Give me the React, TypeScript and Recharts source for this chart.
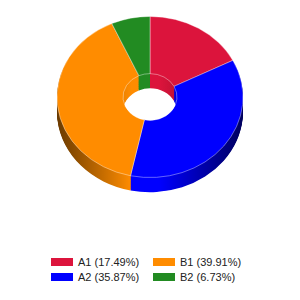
import { PieChart, Pie, Cell } from 'recharts';

const labels = ['A1', 'A2', 'B1', 'B2'];
const values = [17.49, 35.87, 39.91, 6.73];
const colors = ['#DC143C', '#0000FF', '#FF8C00', '#228B22'];
const darkColors = ['#5e0818', '#00005e', '#6a3a00', '#0e3c0e'];

const data = labels.map((name, i) => ({ name, value: values[i] }));
const total = values.reduce((a, b) => a + b, 0);

// pie is drawn flat and squashed with CSS to fake the tilt
const TILT = 0.866;
const CX = 150;
const CY = 112;
const OUTER = 93;
const INNER = 27;
const DEPTH = 17;

const sideLayers = Array.from({ length: DEPTH }, (_, i) => DEPTH - i);

export default function App() {
  return (
    <div style={{ position: 'absolute', left: 0, top: 0, width: 300, height: 300, background: '#fff' }}>
      <div style={{ position: 'absolute', left: 0, top: 0, transform: `scaleY(${TILT})`, transformOrigin: '0 0' }}>
        <PieChart width={300} height={240} margin={{ top: 0, right: 0, bottom: 0, left: 0 }}>
          <defs>
            {colors.map((c, i) => (
              <linearGradient
                key={i}
                id={`side${i}`}
                gradientUnits="userSpaceOnUse"
                x1={CX - OUTER}
                y1={0}
                x2={CX + OUTER}
                y2={0}
              >
                <stop offset="0%" stopColor={darkColors[i]} />
                <stop offset="40%" stopColor={c} />
                <stop offset="55%" stopColor={c} />
                <stop offset="100%" stopColor={darkColors[i]} />
              </linearGradient>
            ))}
          </defs>

          {/* side walls */}
          {sideLayers.map((d) => (
            <Pie
              key={d}
              data={data}
              dataKey="value"
              cx={CX}
              cy={CY + d}
              innerRadius={INNER}
              outerRadius={OUTER}
              startAngle={90}
              endAngle={-270}
              stroke="none"
              isAnimationActive={false}
            >
              {data.map((_, i) => (
                <Cell key={i} fill={`url(#side${i})`} />
              ))}
            </Pie>
          ))}

          {/* top face */}
          <Pie
            data={data}
            dataKey="value"
            cx={CX}
            cy={CY}
            innerRadius={INNER}
            outerRadius={OUTER}
            startAngle={90}
            endAngle={-270}
            stroke="rgba(255,255,255,0.6)"
            strokeWidth={0.7}
            isAnimationActive={false}
          >
            {data.map((_, i) => (
              <Cell key={i} fill={colors[i]} />
            ))}
          </Pie>
        </PieChart>
      </div>

      {/* legend, two columns */}
      {labels.map((name, i) => {
        const col = Math.floor(i / 2);
        const row = i % 2;
        const pct = ((values[i] / total) * 100).toFixed(2);
        return (
          <div
            key={name}
            style={{
              position: 'absolute',
              left: 51 + col * 102,
              top: 256 + row * 14.5,
              height: 12,
              display: 'flex',
              alignItems: 'center',
              fontFamily: 'Arial, "Liberation Sans", sans-serif',
              fontSize: 11,
              color: '#222',
              whiteSpace: 'nowrap',
            }}
          >
            <span style={{ display: 'inline-block', width: 22, height: 8, background: colors[i], marginRight: 5 }} />
            {name} ({pct}%)
          </div>
        );
      })}
    </div>
  );
}
